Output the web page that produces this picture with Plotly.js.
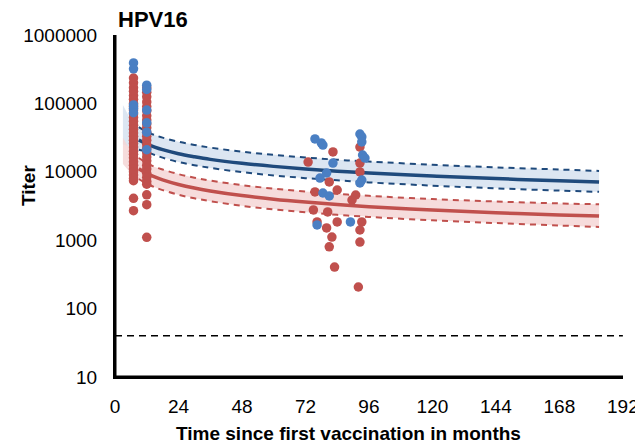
<!DOCTYPE html>
<html>
<head>
<meta charset="utf-8">
<script src="https://cdn.plot.ly/plotly-3.0.1.min.js"></script>
<style>html,body{margin:0;padding:0;background:#fff;}#chart{width:635px;height:444px;}</style>
</head>
<body>
<div id="chart"></div>
<script>
// Fitted model (months since first vaccination) and 95% bands
const fitMonths = [3, 6, 9, 12, 15, 18, 24, 30, 36, 48, 60, 72, 84, 96, 120, 144, 168, 183];
const blueFit   = [49000, 35400, 29200, 25500, 23000, 21100, 18400, 16600, 15200, 13300, 12000, 11000, 10200, 9600, 8700, 7950, 7400, 7100];
const blueUpper = [95000, 57000, 45000, 38400, 34500, 31600, 27500, 24700, 22600, 19700, 17700, 16200, 15000, 14100, 12700, 11600, 10800, 10300];
const blueLower = [25000, 23000, 21000, 19500, 17600, 16100, 13900, 12500, 11400, 9900, 8850, 8080, 7500, 7000, 6280, 5730, 5310, 5090];
const redFit    = [20000, 13700, 11100, 9470, 8400, 7620, 6520, 5780, 5250, 4490, 3980, 3610, 3320, 3090, 2760, 2520, 2340, 2250];
const redUpper  = [31500, 20000, 15900, 13400, 11800, 10800, 9250, 8200, 7450, 6380, 5670, 5150, 4760, 4450, 3990, 3680, 3450, 3350];
const redLower  = [13000, 9500, 7850, 6700, 5950, 5400, 4620, 4100, 3720, 3180, 2820, 2560, 2350, 2190, 1950, 1780, 1640, 1560];

// Observed titers: early visits (month 7 and month 12) and late visits
const earlyMonth1 = 7;
const earlyMonth2 = 12;
const blueM7  = [390000, 320000, 95000, 85000, 73000];
const blueM12 = [185000, 160000, 80000, 52000, 38000, 21000];
const blueLateX = [75.6, 78, 78.6, 92.6, 93.3, 93.3, 93.6, 94.5, 82.4, 77.5, 80, 93.3, 92.6, 78.6, 81, 76.4, 89];
const blueLateY = [30200, 26400, 24600, 35700, 32300, 27300, 17600, 15900, 13400, 8110, 9600, 7590, 6860, 4900, 4430, 1670, 1850];
const redM7  = [235000, 200000, 170000, 150000, 130000, 115000, 100000, 90000, 80000, 70000, 62000, 55000, 48000, 42000, 37000, 33000, 29000, 26000, 23000, 20000, 18000, 16000, 14000, 12500, 11000, 10000, 9000, 8000, 7400, 4100, 2700];
const redM12 = [170000, 145000, 125000, 105000, 90000, 78000, 66000, 57000, 50000, 44000, 38000, 33000, 29000, 25000, 22000, 19000, 16500, 14500, 12500, 11000, 9500, 8300, 7300, 6600, 4600, 3300, 1100];
const redLateX = [82.4, 73, 92.6, 92.6, 92.6, 81, 84, 75.6, 91, 89.6, 75, 80.4, 76.4, 80, 84, 82, 93.3, 92.6, 92.6, 81, 83, 92];
const redLateY = [19500, 13900, 23000, 13400, 9940, 7100, 5420, 5070, 4580, 3870, 2770, 2590, 1850, 1510, 1850, 1110, 1850, 1410, 940, 800, 405, 207];

// Detection threshold
const cutoffX = [0, 192];
const cutoffY = [40, 40];

const xTicks = [0, 24, 48, 72, 96, 120, 144, 168, 192];
const yTicks = [10, 100, 1000, 10000, 100000, 1000000];
const yTickText = ['10', '100', '1000', '10000', '100000', '1000000'];
const yMinorTicks = [];
[10, 100, 1000, 10000, 100000].forEach(d => { for (let k = 2; k <= 9; k++) yMinorTicks.push(d * k); });

const blueX = blueM7.map(() => earlyMonth1).concat(blueM12.map(() => earlyMonth2), blueLateX);
const blueY = blueM7.concat(blueM12, blueLateY);
const redX = redM7.map(() => earlyMonth1).concat(redM12.map(() => earlyMonth2), redLateX);
const redY = redM7.concat(redM12, redLateY);

const NAVY = '#1f4a7c', RED = '#c0504d', BLUEPT = '#4a7fc3';
const BLUEBAND = 'rgba(214,226,240,0.85)', REDBAND = 'rgba(245,214,214,0.85)';
const L = 2; // lines drawn from month 9 on (earlier part is hidden behind the data)
const lm = fitMonths.slice(L);

// Plot geometry (pixels) used only to size the tick marks
const PW = 508, PH = 342, XMAX = 192.05, YMIN = 1, YSPAN = 5;
const pxX = XMAX / PW;              // months per pixel
const pxLog = YSPAN / PH;           // log10 units per pixel
const MAJ = 6, MIN = 4;             // tick lengths in px
const yMajorTickX = yTicks.map(() => -(MAJ / 2) * pxX);
const yMinorTickX = yMinorTicks.map(() => -(MIN / 2) * pxX);
const xTickY = xTicks.map(() => Math.pow(10, YMIN - (MAJ / 2) * pxLog));
// axis frame lines along the range edges
const yAxisLineX = [0, 0], yAxisLineY = [Math.pow(10, YMIN), Math.pow(10, YMIN + YSPAN)];
const xAxisLineX = [0, XMAX], xAxisLineY = [Math.pow(10, YMIN), Math.pow(10, YMIN)];

const traces = [
  {x: fitMonths, y: blueLower, mode: 'lines', line: {width: 0}, hoverinfo: 'skip', showlegend: false},
  {x: fitMonths, y: blueUpper, mode: 'lines', line: {width: 0}, fill: 'tonexty', fillcolor: BLUEBAND, hoverinfo: 'skip', showlegend: false},
  {x: fitMonths, y: redLower, mode: 'lines', line: {width: 0}, hoverinfo: 'skip', showlegend: false},
  {x: fitMonths, y: redUpper, mode: 'lines', line: {width: 0}, fill: 'tonexty', fillcolor: REDBAND, hoverinfo: 'skip', showlegend: false},
  {x: lm, y: blueUpper.slice(L), mode: 'lines', line: {color: NAVY, width: 2, dash: '6px,5px', shape: 'spline'}, showlegend: false},
  {x: lm, y: blueLower.slice(L), mode: 'lines', line: {color: NAVY, width: 2, dash: '6px,5px', shape: 'spline'}, showlegend: false},
  {x: lm, y: redUpper.slice(L), mode: 'lines', line: {color: RED, width: 2, dash: '6px,5px', shape: 'spline'}, showlegend: false},
  {x: lm, y: redLower.slice(L), mode: 'lines', line: {color: RED, width: 2, dash: '6px,5px', shape: 'spline'}, showlegend: false},
  {x: lm, y: blueFit.slice(L), mode: 'lines', line: {color: NAVY, width: 3.5, shape: 'spline'}, showlegend: false},
  {x: lm, y: redFit.slice(L), mode: 'lines', line: {color: RED, width: 3.5, shape: 'spline'}, showlegend: false},
  {x: cutoffX, y: cutoffY, mode: 'lines', line: {color: '#000', width: 1.5, dash: '7px,5px'}, showlegend: false},
  {x: redX, y: redY, mode: 'markers', marker: {color: RED, size: 9.5}, showlegend: false},
  {x: blueX, y: blueY, mode: 'markers', marker: {color: BLUEPT, size: 9.5}, showlegend: false},
  // axis frame lines (half of the width falls inside the plot area)
  {x: yAxisLineX, y: yAxisLineY, mode: 'lines', line: {color: '#000', width: 3}, hoverinfo: 'skip', showlegend: false},
  {x: xAxisLineX, y: xAxisLineY, mode: 'lines', line: {color: '#000', width: 3}, hoverinfo: 'skip', showlegend: false},
  // axis tick marks
  {x: yMajorTickX, y: yTicks, mode: 'markers', cliponaxis: false, hoverinfo: 'skip', showlegend: false,
   marker: {symbol: 'line-ew', size: MAJ / 1.4, color: '#000', line: {color: '#000', width: 2}}},
  {x: yMinorTickX, y: yMinorTicks, mode: 'markers', cliponaxis: false, hoverinfo: 'skip', showlegend: false,
   marker: {symbol: 'line-ew', size: MIN / 1.4, color: '#000', line: {color: '#000', width: 1.5}}},
  {x: xTicks, y: xTickY, mode: 'markers', cliponaxis: false, hoverinfo: 'skip', showlegend: false,
   marker: {symbol: 'line-ns', size: MAJ / 1.4, color: '#000', line: {color: '#000', width: 2}}}
];

const FONT = 'Liberation Sans, Arial, sans-serif';
const layout = {
  width: 635, height: 444,
  margin: {l: 115, r: 12, t: 35, b: 67},
  paper_bgcolor: '#fff', plot_bgcolor: '#fff',
  font: {family: FONT, color: '#000', size: 19},
  title: {text: '<b>HPV16</b>', x: 118/635, xanchor: 'left', xref: 'container', y: 1 - 19/444, yanchor: 'middle', yref: 'container', font: {size: 22, family: FONT, color: '#000'}},
  xaxis: {
    range: [0, XMAX], tickvals: xTicks, ticktext: xTicks.map(String),
    showgrid: false, zeroline: false, showline: true, linecolor: '#000', linewidth: 2, layer: 'above traces',
    ticks: '', ticklabelstandoff: 11,
    ticklabeloverflow: 'allow', tickfont: {size: 19}
  },
  yaxis: {
    type: 'log', range: [YMIN, YMIN + YSPAN], tickvals: yTicks, ticktext: yTickText,
    showgrid: false, zeroline: false, showline: true, linecolor: '#000', linewidth: 2, layer: 'above traces',
    ticks: '', ticklabelstandoff: 12,
    tickfont: {size: 19}
  },
  annotations: [
    {text: '<b>Time since first vaccination in months</b>', xref: 'paper', yref: 'paper', x: 0.459, y: (377 - 433) / PH, xanchor: 'center', yanchor: 'middle', showarrow: false, font: {size: 19}},
    {text: '<b>Titer</b>', xref: 'paper', yref: 'paper', x: (28 - 115) / PW, y: (377 - 186) / PH, xanchor: 'center', yanchor: 'middle', textangle: -90, showarrow: false, font: {size: 19}}
  ]
};

Plotly.newPlot('chart', traces, layout, {displayModeBar: false, staticPlot: true});
</script>
</body>
</html>
